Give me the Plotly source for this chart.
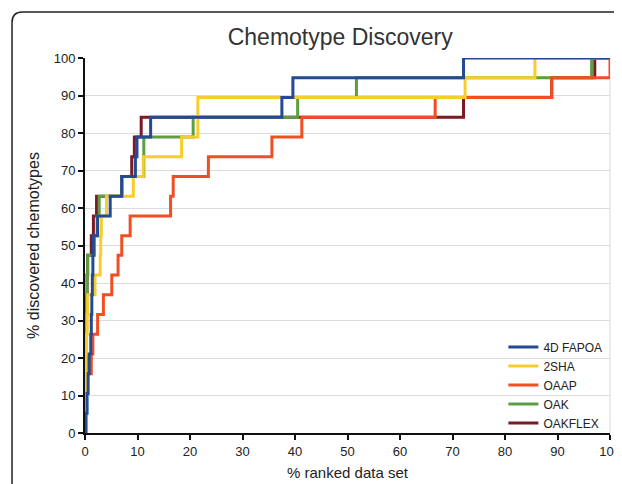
import plotly.graph_objects as go

N_CHEMO = 19

series_names = ["4D FAPOA", "2SHA", "OAAP", "OAK", "OAKFLEX"]
series_colors = ["#234a92", "#f7cd2e", "#f24e24", "#5d9e42", "#7a1a24"]

# x (% ranked data set) at which the k-th chemotype (k=1..19) is discovered
x_fapoa = [0.2, 0.4, 0.6, 0.8, 1.1, 1.2, 1.3, 1.4, 1.5, 1.6, 2.4, 4.8, 7.0, 9.6, 9.9, 12.5, 37.5, 39.6, 72.1]
x_2sha = [0.05, 0.1, 0.15, 0.2, 0.3, 0.4, 0.5, 1.9, 2.9, 3.0, 3.1, 4.1, 9.2, 11.1, 18.4, 21.5, 21.5, 72.4, 85.7]
x_oaap = [0.1, 0.2, 0.3, 1.2, 1.5, 2.4, 3.5, 5.1, 6.3, 7.0, 8.6, 16.3, 16.8, 23.5, 35.6, 41.3, 66.7, 88.9, 100.0]
x_oak = [0.05, 0.1, 0.15, 0.2, 0.25, 0.3, 0.35, 0.4, 0.5, 1.8, 2.3, 2.7, 7.0, 11.2, 11.2, 20.6, 40.5, 51.7, 96.5]
x_oakflex = [0.05, 0.1, 0.15, 0.2, 0.25, 0.3, 0.35, 0.4, 0.5, 1.2, 1.6, 2.2, 7.0, 8.9, 9.4, 10.7, 72.1, 88.9, 97.1]

y_levels = [100.0 * k / N_CHEMO for k in range(1, N_CHEMO + 1)]

all_x = [x_fapoa, x_2sha, x_oaap, x_oak, x_oakflex]

x_ticks = list(range(0, 101, 10))
y_ticks = list(range(0, 101, 10))

fig = go.Figure()
# draw order bottom -> top
draw_order = [4, 3, 2, 1, 0]
for i in draw_order:
    xs = [0.0] + all_x[i]
    ys = [0.0] + y_levels
    if xs[-1] < 100:
        xs = xs + [100.0]
        ys = ys + [100.0]
    fig.add_trace(go.Scatter(
        x=xs, y=ys, mode="lines", name=series_names[i],
        line=dict(color=series_colors[i], width=3, shape="hv"),
        legendrank=i + 1,
    ))

font_family = "Liberation Sans, Arial, sans-serif"

fig.update_layout(
    width=614, height=476,
    margin=dict(l=77, r=12, t=50, b=51),
    paper_bgcolor="white", plot_bgcolor="white",
    font=dict(family=font_family, color="#222"),
    title=dict(text="Chemotype Discovery", x=0.541, xanchor="center", y=0.939, yanchor="middle",
               font=dict(size=23, color="#333", family=font_family)),
    showlegend=True,
    legend=dict(x=0.995, xanchor="right", y=-0.012, yanchor="bottom",
                bgcolor="rgba(0,0,0,0)", font=dict(size=12, color="#222"),
                tracegroupgap=0, itemwidth=30),
    xaxis=dict(range=[0, 100], tickvals=x_ticks, ticks="outside", ticklen=5, tickwidth=2,
               tickcolor="#111", showline=True, linecolor="#111", linewidth=2,
               showgrid=False, zeroline=False, tickfont=dict(size=13, color="#222"),
               automargin=False,
               title=dict(text="% ranked data set", font=dict(size=15, color="#222"), standoff=10)),
    yaxis=dict(range=[0, 100], tickvals=y_ticks, ticks="outside", ticklen=5, tickwidth=2,
               tickcolor="#111", showline=True, linecolor="#111", linewidth=2,
               showgrid=True, gridcolor="#dcdcdc", gridwidth=1, zeroline=False,
               tickfont=dict(size=13, color="#222"), automargin=False,
               title=dict(text="% discovered chemotypes", font=dict(size=16, color="#222"), standoff=10)),
)

# right border of plot area
fig.add_shape(type="line", xref="paper", yref="paper", x0=1, x1=1, y0=0, y1=1,
              line=dict(color="#d8d8d8", width=1), layer="below")

# outer rounded frame
fx, fy = -0.139, 1.1227
rx, ry = 0.02, 0.028
path = (f"M {fx},-0.3 L {fx},{fy - ry} Q {fx},{fy} {fx + rx},{fy} L 1.3,{fy}")
fig.add_shape(type="path", xref="paper", yref="paper", path=path,
              line=dict(color="#222", width=1.5))

fig.write_html("out.html")
